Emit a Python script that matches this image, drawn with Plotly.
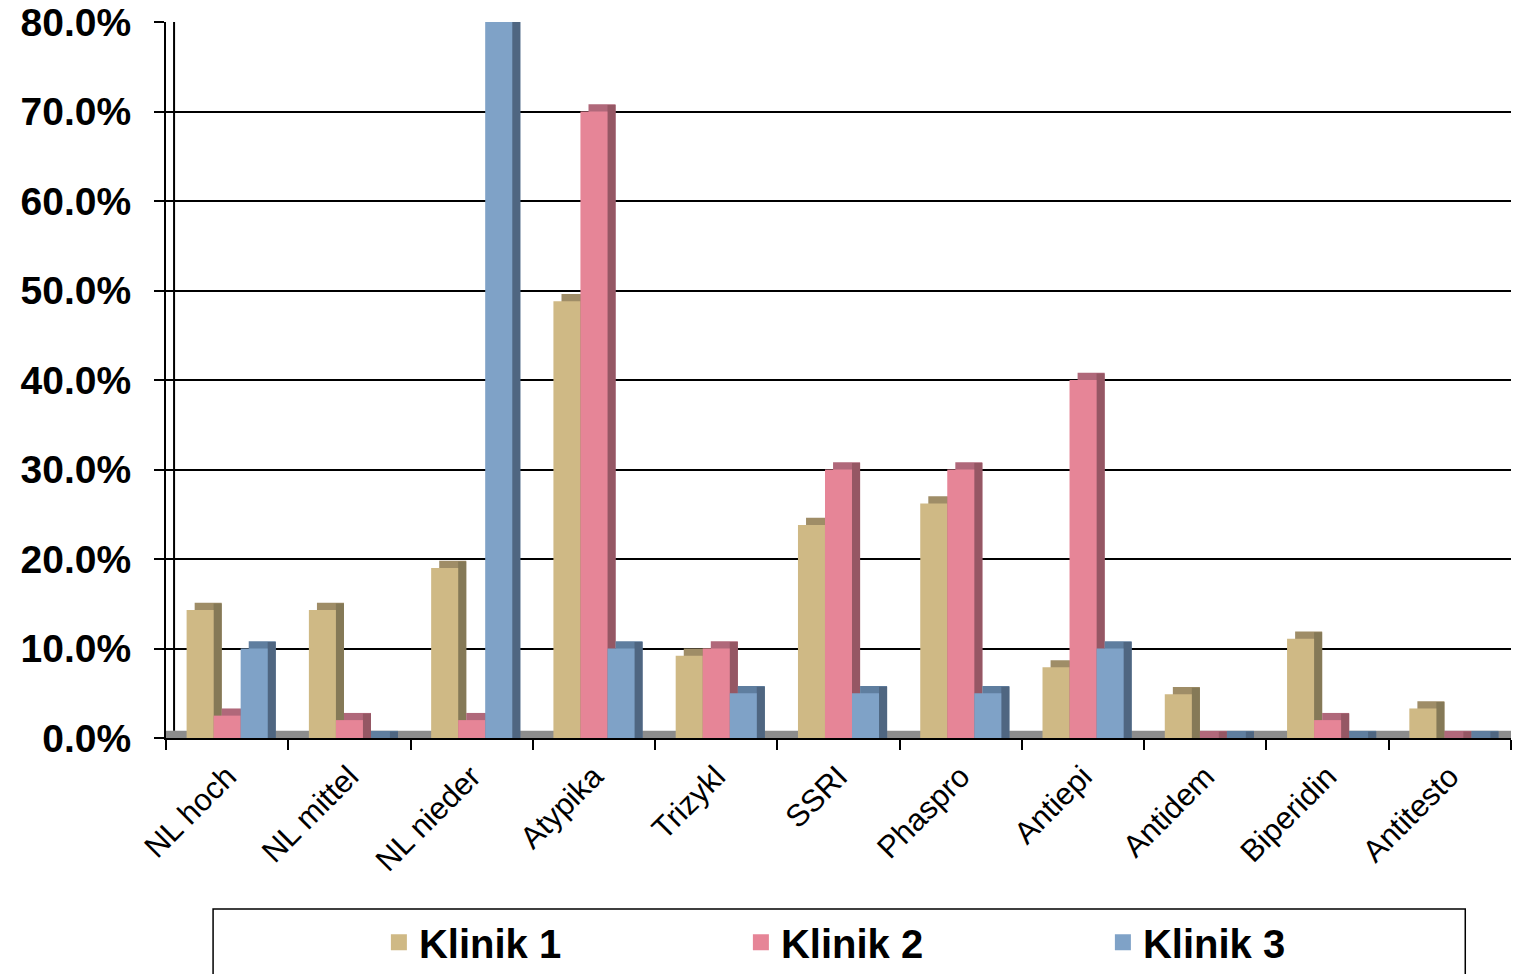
import plotly.graph_objects as go

categories = ["NL hoch", "NL mittel", "NL nieder", "Atypika", "Trizykl", "SSRI",
              "Phaspro", "Antiepi", "Antidem", "Biperidin", "Antitesto"]
klinik1 = [14.3, 14.3, 19.0, 48.8, 9.2, 23.8, 26.2, 7.9, 4.9, 11.1, 3.3]
klinik2 = [2.5, 2.0, 2.0, 70.0, 10.0, 30.0, 30.0, 40.0, 0.0, 2.0, 0.0]
klinik3 = [10.0, 0.0, 80.0, 10.0, 5.0, 5.0, 5.0, 10.0, 0.0, 0.0, 0.0]
series_names = ["Klinik 1", "Klinik 2", "Klinik 3"]
y_ticks = [0, 10, 20, 30, 40, 50, 60, 70, 80]
y_tick_labels = ["0.0%", "10.0%", "20.0%", "30.0%", "40.0%", "50.0%", "60.0%", "70.0%", "80.0%"]

front_colors = ["#cfb985", "#e68597", "#7fa2c7"]
top_colors = ["#9f8d67", "#b0687a", "#5f7e9f"]
side_colors = ["#857957", "#955764", "#4f6681"]

W = 0.221      # bar width (category units)
D = 0.066      # horizontal depth
DV = 0.8       # vertical depth (% units)

fig = go.Figure()
series = [klinik1, klinik2, klinik3]
for i, vals in enumerate(series):
    off = (i - 1.5) * W
    # top face (drawn as shifted rectangle)
    fig.add_trace(go.Bar(x=categories, y=[v + DV for v in vals], offset=off + D, width=W,
                         marker=dict(color=top_colors[i], line=dict(width=0)),
                         showlegend=False, hoverinfo="skip"))
    # side face
    fig.add_trace(go.Bar(x=categories, y=[v + DV * 0.9 for v in vals], offset=off + W, width=D,
                         marker=dict(color=side_colors[i], line=dict(width=0)),
                         showlegend=False, hoverinfo="skip"))
    # front face
    fig.add_trace(go.Bar(x=categories, y=vals, offset=off, width=W, name=series_names[i],
                         marker=dict(color=front_colors[i], line=dict(width=0)),
                         showlegend=False))

# legend proxies (square swatches)
for i, name in enumerate(series_names):
    fig.add_trace(go.Scatter(x=[None], y=[None], mode="markers", name=name,
                             marker=dict(symbol="square", size=16, color=front_colors[i]),
                             showlegend=True))

font_family = "Liberation Sans, Arial, sans-serif"

# floor slab
fig.add_shape(type="rect", xref="paper", yref="y", x0=0, x1=1, y0=0, y1=DV,
              fillcolor="#8c8c8c", line=dict(width=0), layer="below")
# back wall left edge
fig.add_shape(type="line", xref="x", yref="paper", x0=-0.5 + D, x1=-0.5 + D, y0=0.01, y1=1.0,
              line=dict(color="black", width=2), layer="above")
# legend box
fig.add_shape(type="rect", xref="paper", yref="paper", x0=0.035, x1=0.966, y0=-0.239, y1=-0.36,
              line=dict(color="black", width=1.5), fillcolor="rgba(0,0,0,0)")

fig.update_layout(
    width=1513, height=974,
    barmode="overlay",
    paper_bgcolor="white", plot_bgcolor="white",
    margin=dict(l=166, r=2, t=22, b=236, autoexpand=False),
    font=dict(family=font_family, color="black"),
    showlegend=True,
    legend=dict(orientation="h", x=0.562, xanchor="center", y=-0.24, yanchor="top",
                font=dict(size=40, family=font_family, color="black", weight="bold"),
                entrywidth=317, itemwidth=30, bgcolor="rgba(0,0,0,0)",
                traceorder="normal"),
    xaxis=dict(type="category", range=[-0.5, 10.5], showgrid=False, automargin=False,
               showline=True, linecolor="black", linewidth=2,
               ticks="outside", tickson="boundaries", ticklen=10, tickcolor="black", tickwidth=1.5,
               ticklabelstandoff=6,
               tickangle=-45, tickfont=dict(size=31, family=font_family, color="black")),
    yaxis=dict(range=[0, 80], tickvals=y_ticks, ticktext=y_tick_labels, automargin=False,
               showgrid=True, gridcolor="black", gridwidth=2,
               showline=True, linecolor="black", linewidth=2,
               ticks="outside", ticklen=10, tickcolor="black", tickwidth=1.5,
               ticklabelstandoff=15,
               tickfont=dict(size=39, family=font_family, color="black", weight="bold"),
               zeroline=False),
)

fig.write_html("out.html")
